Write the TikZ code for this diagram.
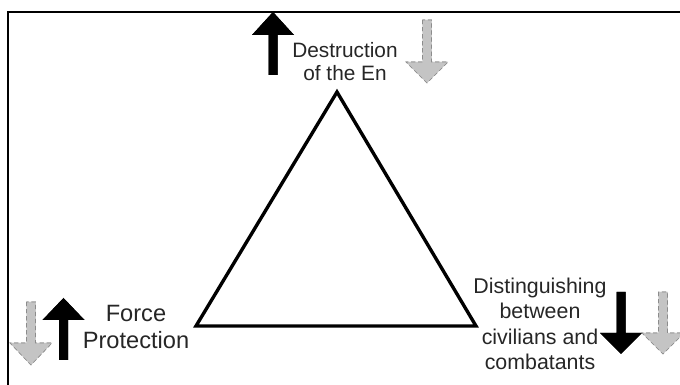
\documentclass[tikz,border=0pt]{standalone}
\usepackage{fontspec}
\setmainfont{Liberation Sans}
\usepackage{xcolor}
\definecolor{arrowGray}{RGB}{196,196,196}
\definecolor{edgeGray}{RGB}{140,140,140}
\usepackage{tikz}
\usetikzlibrary{positioning,calc}
\tikzstyle{frameline}=[line width=1.4pt, color=black]
\tikzstyle{triline}=[line width=2.4pt, line join=miter, color=black]
\tikzstyle{uparrow}=[fill=black, draw=none]
\tikzstyle{grayarrow}=[fill=arrowGray, draw=edgeGray, densely dashed, line width=0.4pt]
\tikzstyle{label}=[align=center, inner sep=0pt, text=black!85]
% x, tail, head base, tip
\newcommand{\blockarrow}[5][]{%
  \fill[#1] (#2-4.5,#3) -- (#2-4.5,#4) -- (#2-21,#4) -- (#2,#5)
    -- (#2+21,#4) -- (#2+4.5,#4) -- (#2+4.5,#3) -- cycle;
  \draw[#1] (#2-4.5,#3) -- (#2-4.5,#4) -- (#2-21,#4) -- (#2,#5)
    -- (#2+21,#4) -- (#2+4.5,#4) -- (#2+4.5,#3) -- cycle;}

\begin{document}
\begin{tikzpicture}[x=0.025cm, y=-0.025cm]
    \useasboundingbox (0,0) rectangle (680,385);

    % Rahmen
    \draw[frameline] (680,12) -- (8,12) -- (8,385);

    % Dreieck
    \coordinate (apex) at (337, 92);
    \coordinate (bl) at (196, 326);
    \coordinate (br) at (476, 326);
    \draw[triline] (apex) -- (bl) -- (br) -- cycle;

    % Beschriftungen
    \node[label, font=\fontsize{14.8}{16.3}\selectfont] (destr) at (345, 62)
         {Destruction\\of the En};
    \node[label, font=\fontsize{16.8}{19.1}\selectfont] (force) at (136, 327)
         {Force\\Protection};
    \node[label, font=\fontsize{15.2}{18.1}\selectfont] (disting) at (540, 324)
         {Distinguishing\\between\\civilians and\\combatants};

    % Pfeile oben
    \blockarrow[uparrow]{273}{75}{35}{12}
    \blockarrow[grayarrow]{427}{20}{62}{83}

    % Pfeile links
    \blockarrow[grayarrow]{31}{302}{343}{365}
    \blockarrow[uparrow]{63.5}{360}{320}{298}

    % Pfeile rechts
    \blockarrow[uparrow]{621}{292}{333}{354}
    \blockarrow[grayarrow]{663}{292}{333}{354}
  \end{tikzpicture}
\end{document}
